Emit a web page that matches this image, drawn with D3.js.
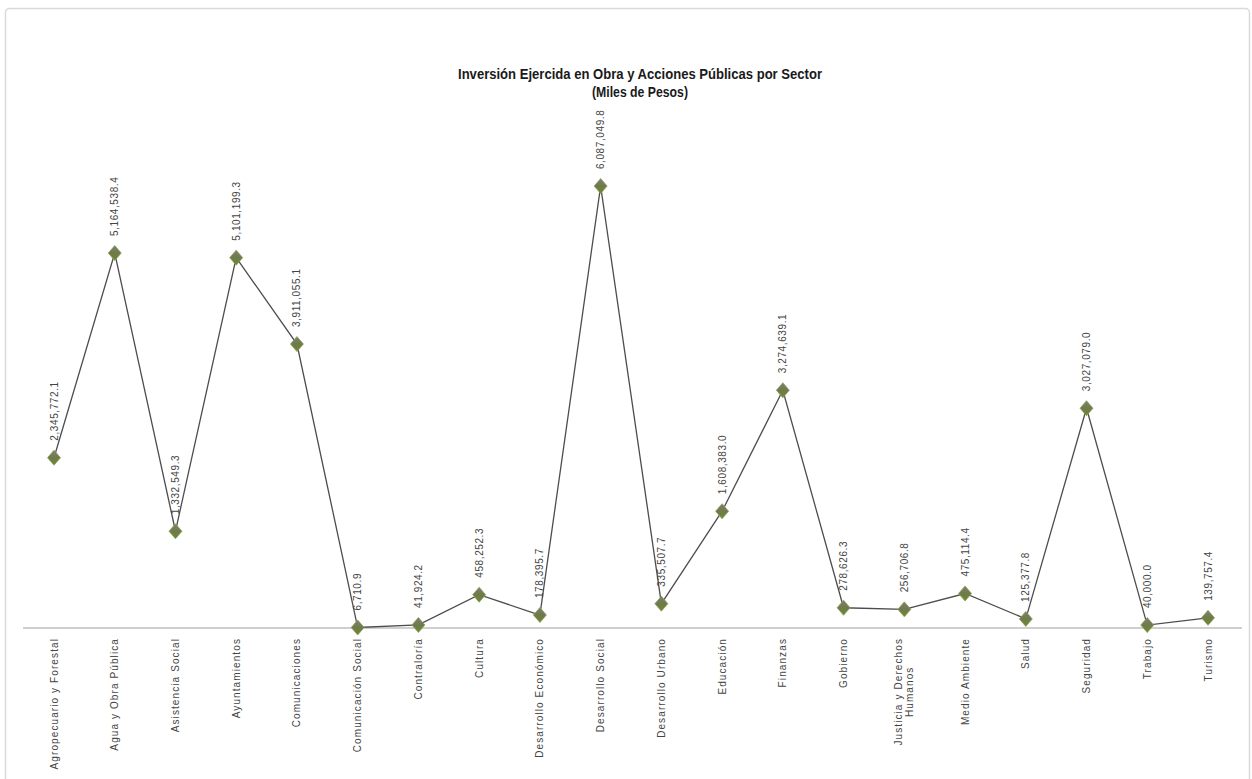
<!DOCTYPE html>
<html>
<head>
<meta charset="utf-8">
<script src="https://cdn.jsdelivr.net/npm/d3@7"></script>
<style>
  html, body { margin: 0; padding: 0; background: #ffffff; }
  svg { display: block; }
</style>
</head>
<body>
<svg id="chart" width="1252" height="779"></svg>
<script>
const categories = [
  "Agropecuario y Forestal", "Agua y Obra Pública", "Asistencia Social", "Ayuntamientos",
  "Comunicaciones", "Comunicación Social", "Contraloría", "Cultura",
  "Desarrollo Económico", "Desarrollo Social", "Desarrollo Urbano", "Educación",
  "Finanzas", "Gobierno", "Justicia y Derechos|Humanos", "Medio Ambiente",
  "Salud", "Seguridad", "Trabajo", "Turismo"
];
const values = [
  2345772.1, 5164538.4, 1332549.3, 5101199.3,
  3911055.1, 6710.9, 41924.2, 458252.3,
  178395.7, 6087049.8, 335507.7, 1608383.0,
  3274639.1, 278626.3, 256706.8, 475114.4,
  125377.8, 3027079.0, 40000.0, 139757.4
];
const titleLines = ["Inversión Ejercida en Obra y Acciones Públicas por Sector", "(Miles de Pesos)"];

const svg = d3.select("#chart");
const W = 1252, H = 779;

// frame
svg.append("rect").attr("x", 5.5).attr("y", 8.5).attr("width", W - 8).attr("height", H)
  .attr("fill", "#fff").attr("stroke", "#d9d9d9").attr("stroke-width", 1.5).attr("rx", 4);

const defs = svg.append("defs");
const grad = defs.append("linearGradient").attr("id", "mk").attr("x1", 0).attr("y1", 0).attr("x2", 0).attr("y2", 1);
grad.append("stop").attr("offset", "0%").attr("stop-color", "#7d806f");
grad.append("stop").attr("offset", "50%").attr("stop-color", "#6f7a4c");
grad.append("stop").attr("offset", "100%").attr("stop-color", "#6b8a2a");

const x = d3.scalePoint().domain(categories).range([54, 1208]);
const y = d3.scaleLinear().domain([0, 8000000]).range([628, 47.2]);

// title
const title = svg.append("g").attr("font-family", "Liberation Sans, Arial, sans-serif")
  .attr("font-weight", "bold").attr("fill", "#1a1a1a").attr("text-anchor", "middle");
title.append("text").attr("x", 640).attr("y", 79).attr("font-size", 15.5)
  .attr("textLength", 364).attr("lengthAdjust", "spacingAndGlyphs").text(titleLines[0]);
title.append("text").attr("x", 640).attr("y", 97).attr("font-size", 15.5)
  .attr("textLength", 96).attr("lengthAdjust", "spacingAndGlyphs").text(titleLines[1]);

// x axis line
svg.append("line").attr("x1", 23).attr("x2", 1242).attr("y1", 628).attr("y2", 628)
  .attr("stroke", "#cfcfcf").attr("stroke-width", 2);

// category labels
const catG = svg.append("g").attr("font-family", "Liberation Sans, Arial, sans-serif")
  .attr("font-size", 10).attr("fill", "#444").attr("letter-spacing", 1.1);
categories.forEach(c => {
  const parts = c.split("|");
  const t = catG.append("text")
    .attr("transform", `translate(${x(c)},638) rotate(-90)`)
    .attr("text-anchor", "end");
  if (parts.length === 1) {
    t.append("tspan").attr("x", 0).attr("dy", "0.35em").text(parts[0]);
  } else {
    t.append("tspan").attr("x", 0).attr("dy", "-0.2em").text(parts[0]);
    t.append("tspan").attr("x", 0).attr("dy", "1.1em").text(parts[1]);
  }
});
catG.selectAll("text").each(function() {
  const tsp = d3.select(this).selectAll("tspan");
  if (tsp.size() === 2) {
    const first = tsp.nodes()[0].getComputedTextLength();
    d3.select(tsp.nodes()[1]).attr("x", -(first - tsp.nodes()[1].getComputedTextLength()) / 2);
  }
});

// line
const data = categories.map((c, i) => ({ c, v: values[i] }));
svg.append("path").datum(data)
  .attr("fill", "none").attr("stroke", "#4d4d4d").attr("stroke-width", 1.3)
  .attr("d", d3.line().x(d => x(d.c)).y(d => y(d.v)));

// markers
svg.append("g").selectAll("path").data(data).join("path")
  .attr("transform", d => `translate(${x(d.c)},${y(d.v)})`)
  .attr("d", "M0,-7.5 L6.5,0 L0,7.5 L-6.5,0 Z")
  .attr("fill", "url(#mk)").attr("stroke", "#8fa05a").attr("stroke-width", 0.8);

// value labels
const fmt = d3.format(",.1f");
svg.append("g").attr("font-family", "Liberation Sans, Arial, sans-serif")
  .attr("font-size", 10).attr("fill", "#444").attr("letter-spacing", 0.6)
  .selectAll("text").data(data).join("text")
  .attr("transform", d => `translate(${x(d.c)},${y(d.v) - 17}) rotate(-90)`)
  .attr("text-anchor", "start").attr("dy", "0.35em")
  .text(d => fmt(d.v));
</script>
</body>
</html>
